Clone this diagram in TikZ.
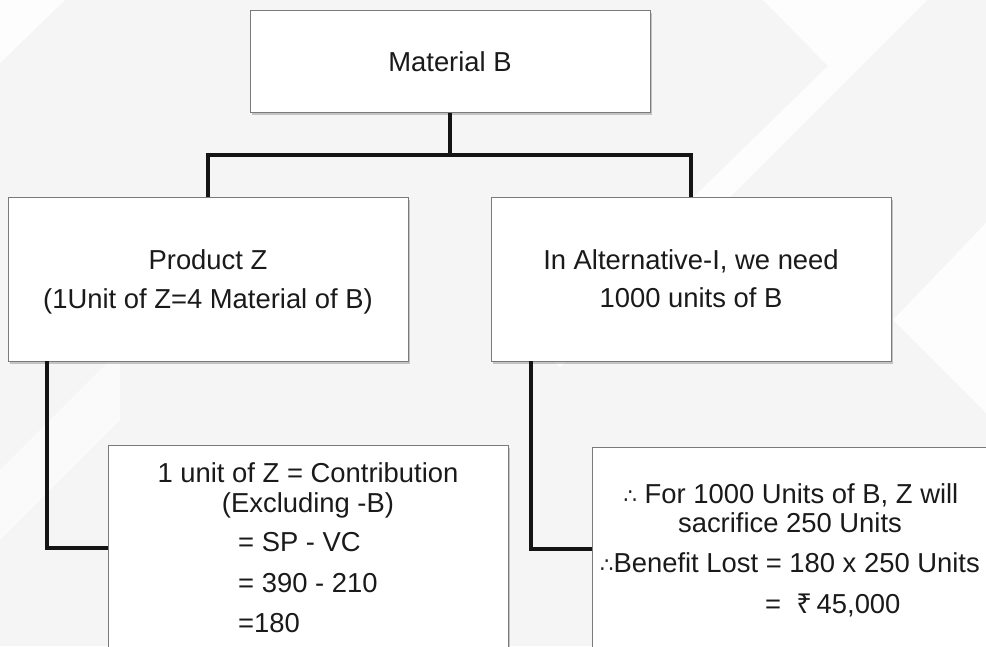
\documentclass[tikz,border=0pt]{standalone}
\usepackage{fontspec}
\setmainfont{Liberation Sans}
\newfontfamily\dejavu{DejaVu Sans}
\newfontfamily\notosans{Noto Sans}
\usetikzlibrary{shadows}
\definecolor{bgc}{HTML}{F5F5F5}
\definecolor{txtc}{HTML}{1A1A1A}
\definecolor{edgec}{HTML}{7A7A7A}
\definecolor{linec}{HTML}{141414}
\newcommand{\thf}{{\dejavu\fontsize{21}{24}\selectfont ∴}}
\tikzset{
  box/.style={draw=edgec, line width=1pt, fill=white, inner sep=0pt,
    drop shadow={shadow xshift=2pt, shadow yshift=-2.5pt, opacity=0.35, fill=black!60}},
  conn/.style={draw=linec, line width=4pt, line join=miter},
  txt/.style={font=\fontsize{27.4}{32}\selectfont, text=txtc, inner sep=0pt, anchor=base},
  txtw/.style={txt, anchor=base west},
  bgband/.style={fill=white, draw=none, opacity=0.85},
}
\begin{document}
\begin{tikzpicture}[x=1pt,y=-1pt]
\useasboundingbox (0,0) rectangle (986,646);
\clip (0,0) rectangle (986,646);
% background
\fill[bgc] (0,0) rectangle (986,646);
\fill[bgband] (0,0) -- (65,0) -- (0,63) -- cycle;
\fill[bgband] (763,0) -- (927,0) -- (560,367) -- (540,347) -- (828,66) -- cycle;
\fill[bgband] (986,223) -- (893,320) -- (986,413) -- cycle;
\fill[bgband, opacity=0.5] (0,470) -- (120,350) -- (120,420) -- (0,540) -- cycle;
\fill[bgband, opacity=0.5] (986,560) -- (900,646) -- (986,646) -- cycle;

% boxes
\node[box, minimum width=400pt, minimum height=102pt] (matB) at (450,61) {};
\node[box, minimum width=400pt, minimum height=164pt] (prodZ) at (208,279) {};
\node[box, minimum width=400pt, minimum height=164pt] (alt) at (691,279) {};
\node[box, minimum width=400pt, minimum height=255pt] (contrib) at (308,572.5) {};
\node[box, minimum width=458pt, minimum height=253pt] (benefit) at (821,573.5) {};

% connectors
\coordinate (hub) at (450,155);
\coordinate (lz) at (47,361);
\coordinate (lzend) at (108,548);
\coordinate (ra) at (531,361);
\coordinate (raend) at (592,549);
\draw[conn] (matB.south) -- (hub);
\draw[conn] (prodZ.north) |- (hub) -| (alt.north);
\draw[conn] (lz) |- (lzend);
\draw[conn] (ra) |- (raend);

% texts
\node[txt] (t1) at (450,71) {Material B};
\node[txt] (t2) at (208,269) {Product Z};
\node[txt] (t3) at (208,308) {(1Unit of Z=4 Material of B)};
\node[txt] (t4) at (691,269) {In Alternative-I, we need};
\node[txt] (t5) at (691,307) {1000 units of B};
\node[txt] (t6) at (308,482) {1 unit of Z = Contribution};
\node[txt] (t7) at (308,512) {(Excluding -B)};
\node[txtw] (t8) at (238,551) {= SP - VC};
\node[txtw] (t9) at (238,592) {= 390 - 210};
\node[txtw] (t10) at (238,632) {=180};
\node[txt] (t11) at (791,503) {\thf\ For 1000 Units of B, Z will};
\node[txt] (t12) at (790,532) {sacrifice 250 Units};
\node[txt] (t13) at (790,572) {\thf Benefit Lost = 180 x 250 Units};
\node[txtw] (t14) at (765,613) {=\ \ {\notosans ₹}\,45,000};
\end{tikzpicture}
\end{document}
